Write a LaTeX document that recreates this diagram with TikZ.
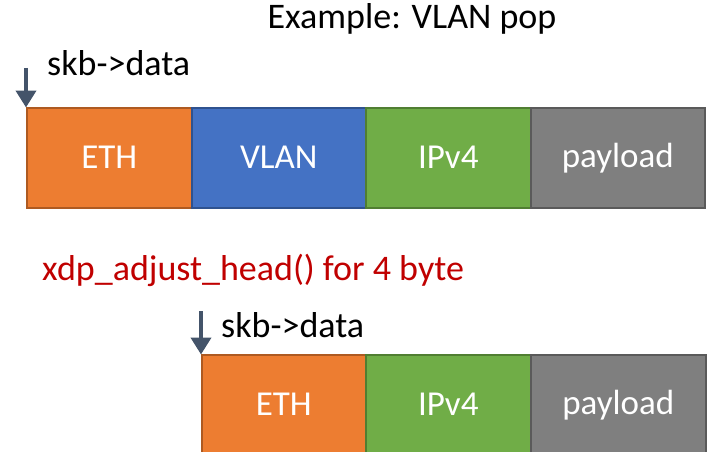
\documentclass[tikz,border=0pt]{standalone}
\usepackage{fontspec}
\setmainfont{Carlito}
\usetikzlibrary{arrows.meta}
\definecolor{ethF}{HTML}{ED7D31}\definecolor{ethD}{HTML}{AE5A21}
\definecolor{vlanF}{HTML}{4472C4}\definecolor{vlanD}{HTML}{2F528F}
\definecolor{ipF}{HTML}{70AD47}\definecolor{ipD}{HTML}{507E32}
\definecolor{plF}{HTML}{7F7F7F}\definecolor{plD}{HTML}{5A5A5A}
\definecolor{arr}{HTML}{44546A}
\definecolor{redtxt}{HTML}{C00000}
\tikzset{
  seg/.style={anchor=north west, draw, line width=1.5pt, minimum height=100pt, inner sep=0pt, text=white, font=\fontsize{35}{40}\selectfont},
  lbl/.style={font=\fontsize{36}{41}\selectfont, inner sep=0pt, anchor=base west},
  ptr/.style={draw=arr, line width=4pt, -{Triangle[width=20pt,length=17pt]}, shorten >=-0.5pt}
}
\begin{document}
\begin{tikzpicture}[x=1pt,y=-1pt]
\useasboundingbox (0,0) rectangle (709,452);
\begin{scope}
\clip (0,0) rectangle (709,452);
% title
\node[lbl, anchor=base] (title) at (412,29) {Example: VLAN pop};
% top row
\node[seg, fill=ethF, draw=ethD, minimum width=165pt] (eth1) at (26,107) {ETH};
\node[seg, fill=vlanF, draw=vlanD, minimum width=174pt] (vlan1) at (191,107) {VLAN};
\node[seg, fill=ipF, draw=ipD, minimum width=165pt] (ip1) at (365,107) {IPv4};
\node[seg, fill=plF, draw=plD, minimum width=174pt] (pl1) at (530,107) {payload};
\node[lbl] (skb1) at (47,75) {skb->data};
\coordinate (p1) at (26,68);
\draw[ptr] (p1) -- (eth1.north west);
% red text
\node[lbl, text=redtxt] (adj) at (42,280) {xdp\_adjust\_head() for 4 byte};
% bottom row
\node[seg, fill=ethF, draw=ethD, minimum width=164pt] (eth2) at (201,354) {ETH};
\node[seg, fill=ipF, draw=ipD, minimum width=165pt] (ip2) at (365,354) {IPv4};
\node[seg, fill=plF, draw=plD, minimum width=175pt] (pl2) at (530,354) {payload};
\node[lbl] (skb2) at (221,337) {skb->data};
\coordinate (p2) at (201,311);
\draw[ptr] (p2) -- (eth2.north west);
\end{scope}
\end{tikzpicture}
\end{document}
